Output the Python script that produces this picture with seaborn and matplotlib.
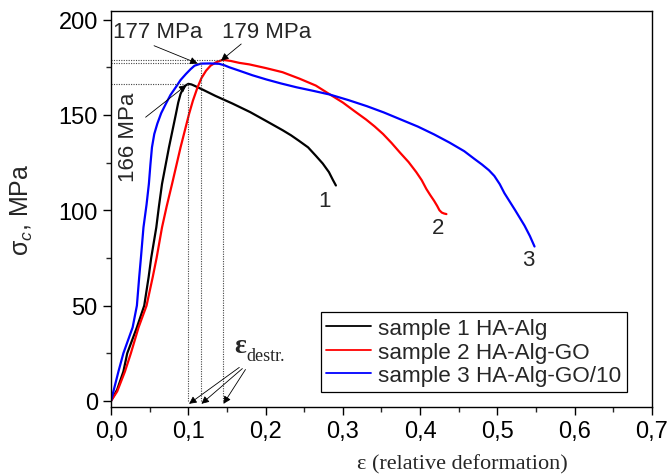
import matplotlib
matplotlib.use("Agg")
import matplotlib.pyplot as plt
import seaborn as sns
import numpy as np

# ---- data ----
x1 = [0, 0.008, 0.016, 0.021, 0.0335, 0.043, 0.0487, 0.052, 0.0586, 0.062, 0.066, 0.075, 0.084, 0.087,
      0.090, 0.093, 0.096, 0.100, 0.104, 0.108, 0.120, 0.135, 0.157, 0.180, 0.200, 0.222, 0.233, 0.243,
      0.255, 0.265, 0.274, 0.282, 0.287, 0.291]
y1 = [0, 6, 15.4, 25, 38.6, 50, 65, 75, 91, 102, 113.8, 133, 150.5, 156.5,
      161, 163.6, 165.3, 166.3, 166, 165.3, 163, 160, 156, 151.5, 147, 142, 139.3, 136.5,
      133, 128.6, 124.5, 120, 116, 113]

x2 = [0, 0.008, 0.018, 0.0257, 0.0357, 0.046, 0.054, 0.059, 0.066, 0.072, 0.079, 0.090, 0.101, 0.106,
      0.112, 0.117, 0.123, 0.129, 0.136, 0.1445, 0.155, 0.166, 0.179, 0.200, 0.222, 0.244, 0.265, 0.283,
      0.300, 0.315, 0.330, 0.341, 0.352, 0.363, 0.374, 0.385, 0.395, 0.402, 0.408, 0.413, 0.418, 0.422,
      0.425, 0.428, 0.431, 0.434]
y2 = [0, 5, 15.4, 25, 38.6, 50, 65, 75, 91, 102, 113.8, 133, 150.5, 157.5,
      164.5, 169.3, 173.2, 175.9, 177.6, 178.9, 178.3, 177.3, 176.5, 174.6, 172.4, 169, 165.4, 160.8,
      156.5, 152, 147.6, 144, 140, 135.3, 130.2, 125.3, 120, 115.8, 111.2, 108, 105, 102.3,
      100, 98.8, 98.3, 98]

x3 = [0, 0.0096, 0.016, 0.028, 0.0335, 0.0365, 0.0387, 0.042, 0.046, 0.049, 0.051, 0.053, 0.056, 0.060,
      0.065, 0.0708, 0.077, 0.0838, 0.090, 0.097, 0.103, 0.108, 0.116, 0.128, 0.140, 0.147, 0.153, 0.166,
      0.183, 0.201, 0.220, 0.240, 0.262, 0.283, 0.307, 0.331, 0.353, 0.375, 0.397, 0.418, 0.438, 0.457,
      0.470, 0.480, 0.489, 0.496, 0.503, 0.509, 0.516, 0.523, 0.529, 0.535, 0.542, 0.548]
y3 = [0, 15.4, 25, 38.6, 50, 65, 75, 91, 103, 113.8, 124, 133, 140, 145.5,
      151, 155.7, 160.5, 164.5, 168.3, 171.5, 174, 175.8, 176.9, 177, 176.8, 176, 175, 173.2,
      170.8, 168.6, 166.5, 164.5, 162.6, 160.7, 157.8, 154.6, 151.3, 147.6, 143.9, 139.8, 135.5, 131,
      127, 124, 121, 118, 113.7, 109, 104.5, 100, 96, 92, 86.5, 81]

series_labels = ["sample 1 HA-Alg", "sample 2 HA-Alg-GO", "sample 3 HA-Alg-GO/10"]
series_colors = ["#000000", "#ff0000", "#0000ff"]
curve_numbers = ["1", "2", "3"]
curve_number_pos = [(0.276, 105), (0.423, 91), (0.540, 74)]

peak_x = [0.100, 0.116, 0.1445]
peak_y = [166.3, 177, 179]
peak_labels = ["166 MPa", "177 MPa", "179 MPa"]

x_ticks = [0.0, 0.1, 0.2, 0.3, 0.4, 0.5, 0.6, 0.7]
x_tick_labels = ["0,0", "0,1", "0,2", "0,3", "0,4", "0,5", "0,6", "0,7"]
y_ticks = [0, 50, 100, 150, 200]

# ---- style ----
sns.set_style("ticks")
plt.rcParams['font.family'] = ['Liberation Sans', 'DejaVu Sans']
plt.rcParams['mathtext.fontset'] = 'custom'
plt.rcParams['mathtext.rm'] = 'Liberation Sans'
plt.rcParams['mathtext.it'] = 'Liberation Sans:italic'

fig = plt.figure(figsize=(6.67, 4.77), dpi=100)
ax = fig.add_axes([111/667, 1 - 407.5/477, (652-111)/667, (407.5-12)/477])

for xs, ys, lab, col in zip([x1, x2, x3], [y1, y2, y3], series_labels, series_colors):
    sns.lineplot(x=xs, y=ys, color=col, lw=1.6, label=lab, sort=False, estimator=None, ax=ax)

ax.set_xlim(0, 0.7)
ax.set_ylim(-2.9, 204.5)
ax.set_xticks(x_ticks)
ax.set_xticklabels(x_tick_labels)
ax.set_yticks(y_ticks)
ax.set_xticks(np.arange(0.05, 0.7, 0.1), minor=True)
ax.set_yticks(np.arange(25, 200, 50), minor=True)
ax.tick_params(axis='both', which='major', direction='out', length=6, width=1, labelsize=17, colors='black')
ax.tick_params(axis='both', which='minor', direction='out', length=3.5, width=1)
ax.tick_params(top=False, right=False)
for s in ax.spines.values():
    s.set_visible(True)
    s.set_color('black')
    s.set_linewidth(1.0)

ax.set_xlabel("ε (relative deformation)", family=['Liberation Serif', 'DejaVu Serif'], fontsize=16)
ax.xaxis.set_label_coords(0.649, -0.12)
ax.set_ylabel(r"σ$_c$, MPa", fontsize=18)
ax.yaxis.set_label_coords(-0.14, 0.5)

# dotted guide lines
dot = dict(color='#444444', lw=0.8, ls=(0, (1, 1.2)))
for px, py in zip(peak_x, peak_y):
    ax.plot([0, px], [py, py], **dot)
    ax.plot([px, px], [0, py], **dot)

arr = dict(arrowstyle='-|>', color='black', lw=0.6, mutation_scale=11, shrinkA=0, shrinkB=0)

# peak annotations
ax.text(0.061, 194, peak_labels[1], fontsize=16, ha='center', va='center')
ax.annotate("", xy=(0.112, 177), xytext=(0.0557, 186.3), arrowprops=arr)
ax.text(0.202, 194, peak_labels[2], fontsize=16, ha='center', va='center')
ax.annotate("", xy=(0.1424, 178.5), xytext=(0.1685, 187.2), arrowprops=arr)
ax.text(0.023, 139, peak_labels[0], fontsize=16, ha='center', va='center', rotation=90)
ax.annotate("", xy=(0.0977, 165.7), xytext=(0.0448, 148.8), arrowprops=arr)

# epsilon destr.
ax.text(0.167, 29, "ε", family=['Liberation Serif', 'DejaVu Serif'], fontsize=20, fontweight='bold',
        ha='center', va='center')
ax.text(0.175, 24, "destr.", family=['Liberation Serif', 'DejaVu Serif'], fontsize=13,
        ha='left', va='center')
for sx, sy, ex in zip([0.166, 0.170, 0.174], [17.6, 17.0, 16.5], peak_x):
    ax.annotate("", xy=(ex + 0.001, -1.5), xytext=(sx, sy), arrowprops=arr)

# curve numbers
for t, (tx, ty) in zip(curve_numbers, curve_number_pos):
    ax.text(tx, ty, t, fontsize=16, ha='center', va='center')

leg = ax.legend(loc='lower right', bbox_to_anchor=(0.954, 0.037), fontsize=16.2, frameon=True,
                fancybox=False, edgecolor='black', framealpha=1, borderpad=0.25, labelspacing=0.12,
                handlelength=2.0, handletextpad=0.3, borderaxespad=0)
leg.get_frame().set_linewidth(0.9)
for h in leg.get_lines():
    h.set_linewidth(1.3)

fig.savefig("out.png", dpi=100)
